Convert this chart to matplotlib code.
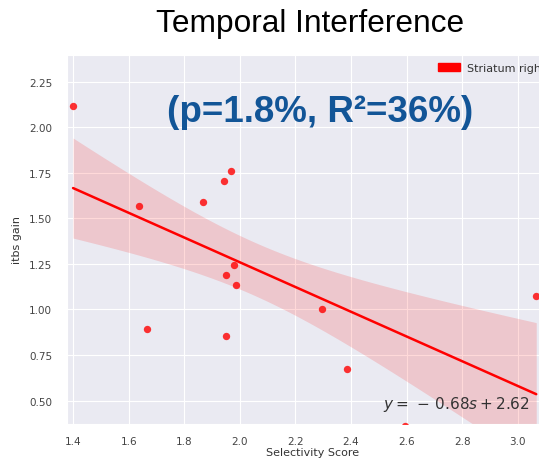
import numpy as np
import matplotlib
matplotlib.use("Agg")
import matplotlib.pyplot as plt
import matplotlib.patches as mpatches
import seaborn as sns

# values
selectivity = [1.399, 1.635, 1.664, 1.867, 1.944, 1.966, 1.949, 1.980,
               1.984, 1.951, 2.294, 2.385, 2.594, 3.067]
itbs_gain = [2.117, 1.570, 0.893, 1.591, 1.708, 1.761, 1.190, 1.243,
             1.136, 0.853, 1.001, 0.671, 0.360, 1.072]
series_label = "Striatum right"
fit_text = r"$y = \,-\, 0.68s + 2.62$"
stats_text = "(p=1.8%, R\u00b2=36%)"
title_text = "Temporal Interference"
band_mult = 1.38  # band width in standard errors (narrow band in the reference)

sns.set_style("darkgrid")

fig = plt.figure(figsize=(5.39, 4.60), dpi=100)
ax = fig.add_axes([0.1237, 0.0761, 0.9134, 0.8022])

x = np.array(selectivity)
y = np.array(itbs_gain)
slope, icpt = np.polyfit(x, y, 1)
resid = y - (slope * x + icpt)
s = np.sqrt(np.sum(resid ** 2) / (len(x) - 2))
xs = np.linspace(x.min(), x.max(), 200)
yhat = slope * xs + icpt
se = s * np.sqrt(1 / len(x) + (xs - x.mean()) ** 2 / np.sum((x - x.mean()) ** 2))

ax.fill_between(xs, yhat - band_mult * se, yhat + band_mult * se,
                color="red", alpha=0.15, linewidth=0)
ax.plot(xs, yhat, color="red", lw=1.8)
ax.scatter(x, y, color="red", s=28, alpha=0.8, linewidths=0, zorder=3)

ax.set_xlim(1.376, 3.149)
ax.set_ylim(0.371, 2.398)
ax.set_xticks([1.4, 1.6, 1.8, 2.0, 2.2, 2.4, 2.6, 2.8, 3.0])
ax.set_yticks([0.5, 0.75, 1.0, 1.25, 1.5, 1.75, 2.0, 2.25])
ax.set_yticklabels(["0.50", "0.75", "1.00", "1.25", "1.50", "1.75", "2.00", "2.25"])
ax.tick_params(axis="both", labelsize=7.5, colors="#444444")
ax.tick_params(axis="y", pad=7)
ax.tick_params(axis="x", pad=5)
ax.set_xlabel("Selectivity Score", fontsize=8, color="#333333", labelpad=1)
ax.set_ylabel("itbs gain", fontsize=8, color="#333333", labelpad=5)

patch = mpatches.Patch(color="red", label=series_label)
ax.legend(handles=[patch], loc="upper left", bbox_to_anchor=(438 / 539, 1 - 64 / 460),
          bbox_transform=fig.transFigure, frameon=False, fontsize=8,
          borderpad=0, borderaxespad=0, handletextpad=0.6, labelcolor="#333333")

fig.text(530 / 539, 1 - 405 / 460, fit_text, ha="right", va="center",
         fontsize=11, color="#333333")
fig.text(320 / 539, 1 - 113 / 460, stats_text, ha="center", va="center",
         fontsize=26.5, fontweight="bold", color="#125597", family="Liberation Sans")
fig.text(310 / 539, 1 - 24 / 460, title_text, ha="center", va="center",
         fontsize=22.8, color="black", family="Liberation Sans")

fig.savefig("out.png", dpi=100)
